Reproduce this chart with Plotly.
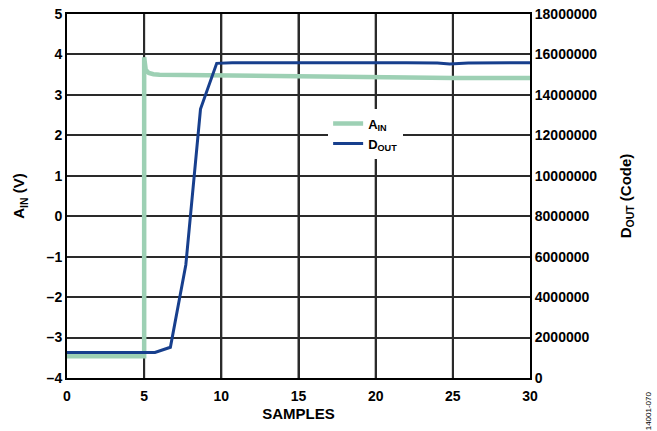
import plotly.graph_objects as go

# A_IN (V) trace
ain_x = [0, 2, 4, 5.0, 5.0, 5.1, 5.3, 5.6, 6, 8, 10, 12, 15, 18, 20, 22, 25, 28, 30]
ain_y = [-3.46, -3.46, -3.46, -3.46, 3.93, 3.62, 3.54, 3.51, 3.50, 3.49, 3.48, 3.46, 3.45, 3.44, 3.43, 3.43, 3.42, 3.42, 3.42]

# D_OUT (code) trace
dout_x = [0, 2, 4, 5, 5.7, 6.7, 7.7, 8.65, 9.7, 10.7, 14, 18, 22, 24, 24.8, 26, 28, 30]
dout_y = [1260000, 1260000, 1260000, 1260000, 1260000, 1520000, 5600000, 13300000,
          15560000, 15590000, 15600000, 15590000, 15590000, 15580000, 15530000, 15580000, 15590000, 15590000]

left_ticks = [-4, -3, -2, -1, 0, 1, 2, 3, 4, 5]
left_labels = ["–4", "–3", "–2", "–1", "0", "1", "2", "3", "4", "5"]
right_ticks = [0, 2000000, 4000000, 6000000, 8000000, 10000000, 12000000, 14000000, 16000000, 18000000]
right_labels = ["0", "2000000", "4000000", "6000000", "8000000", "10000000", "12000000", "14000000", "16000000", "18000000"]
x_ticks = [0, 5, 10, 15, 20, 25, 30]
x_labels = ["0", "5", "10", "15", "20", "25", "30"]

FONT = "Liberation Sans, Arial, sans-serif"
green = "#9dd0b4"
navy = "#173f8d"
GRID = "#2a2a2a"
TICK = 14
TITLE = 15

def b(lst):
    return ["<b>%s</b>" % s for s in lst]

fig = go.Figure()
fig.add_trace(go.Scatter(x=ain_x, y=ain_y, mode="lines", name="<b>A<sub>IN</sub></b>",
                         line=dict(color=green, width=4.5), yaxis="y"))
fig.add_trace(go.Scatter(x=dout_x, y=dout_y, mode="lines", name="<b>D<sub>OUT</sub></b>",
                         line=dict(color=navy, width=3), yaxis="y2"))

# vertical grid lines, positioned from the x tick array, drawn beneath the traces
for xv in x_ticks[1:-1]:
    fig.add_shape(type="line", xref="x", yref="paper", x0=xv, x1=xv, y0=0, y1=1,
                  line=dict(color=GRID, width=2), layer="between")

fig.update_layout(
    template="none",
    width=657, height=431,
    margin=dict(l=67, r=127, t=14, b=53, autoexpand=False),
    paper_bgcolor="white", plot_bgcolor="rgba(0,0,0,0)",
    font=dict(family=FONT, size=12, color="black"),
    showlegend=True,
    legend=dict(x=0.564, y=0.74, xanchor="left", yanchor="top",
                bgcolor="white", font=dict(family=FONT, size=13, color="black"),
                tracegroupgap=0, itemwidth=30),
    xaxis=dict(range=[0, 30], tickvals=x_ticks, ticktext=b(x_labels), showgrid=True,
               gridcolor=GRID, gridwidth=2,
               showline=True, linecolor="black", linewidth=2, mirror=True, zeroline=False,
               ticks="", automargin=False, ticklabelstandoff=4,
               tickfont=dict(family=FONT, size=TICK, color="black"),
               title=dict(text="<b>SAMPLES</b>", font=dict(family=FONT, size=TITLE), standoff=6)),
    yaxis=dict(range=[-4, 5], tickvals=left_ticks, ticktext=b(left_labels), showgrid=True,
               gridcolor=GRID, gridwidth=2,
               showline=True, linecolor="black", linewidth=2, mirror=True,
               zeroline=False, ticks="", automargin=False,
               tickfont=dict(family=FONT, size=TICK, color="black"),
               title=dict(text="<b>A<sub>IN</sub> (V)</b>", font=dict(family=FONT, size=TITLE), standoff=18)),
    yaxis2=dict(range=[0, 18000000], tickvals=right_ticks, ticktext=b(right_labels), overlaying="y",
                side="right", showgrid=False, showline=True, linecolor="black", linewidth=2,
                zeroline=False, ticks="", automargin=False,
                tickfont=dict(family=FONT, size=TICK, color="black"),
                title=dict(text="<b>D<sub>OUT</sub> (Code)</b>", font=dict(family=FONT, size=TITLE), standoff=24)),
)

fig.add_annotation(text="14001-070", x=1.256, y=-0.09, xref="paper", yref="paper",
                   xanchor="center", yanchor="middle",
                   showarrow=False, textangle=-90,
                   font=dict(family=FONT, size=8, color="black"))

fig.write_html("out.html", config={"displayModeBar": False},
               post_script="document.body.style.margin='0';")
